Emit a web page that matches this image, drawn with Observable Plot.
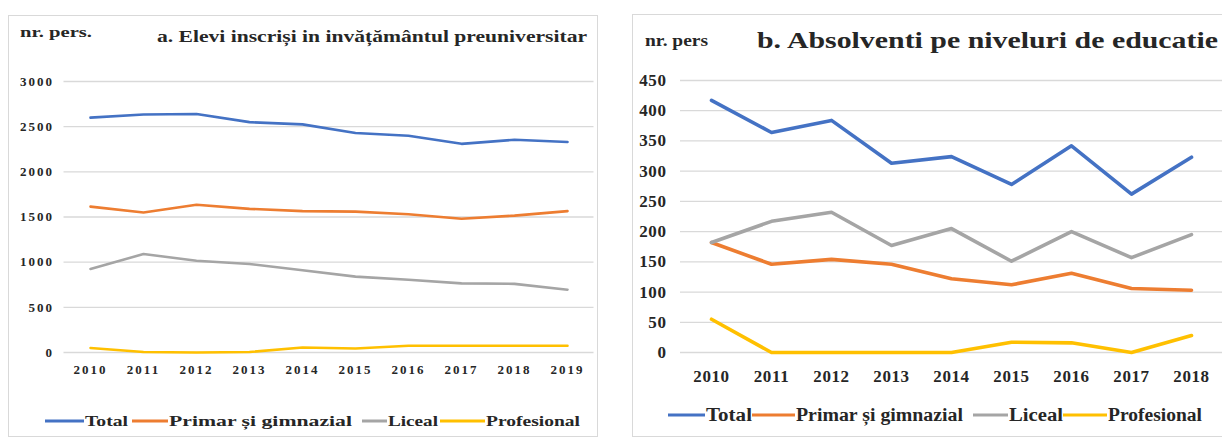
<!DOCTYPE html>
<html><head><meta charset="utf-8">
<script src="https://cdn.jsdelivr.net/npm/d3@7"></script>
<script src="https://cdn.jsdelivr.net/npm/@observablehq/plot@0.6"></script>
<style>
body{margin:0;background:#fff;}
#root{position:relative;width:1222px;height:438px;overflow:hidden;font-family:"Liberation Serif","Times New Roman",serif;font-weight:bold;color:#262626;}
.panel{position:absolute;border:1px solid #d9d9d9;box-sizing:border-box;}
.t{position:absolute;white-space:nowrap;line-height:1;transform-origin:0 50%;transform:translateY(-50%);}
.sw{position:absolute;height:3px;transform:translateY(-50%);}
#root svg{position:absolute;overflow:visible;}
</style></head><body><div id="root"></div>
<script>
// ---- data: panel a (Elevi înscriși în învățământul preuniversitar)
const yearsA   = ["2010","2011","2012","2013","2014","2015","2016","2017","2018","2019"];
const totalA   = [2600,2635,2640,2550,2525,2430,2400,2310,2355,2330];
const primarA  = [1615,1550,1635,1590,1565,1560,1530,1480,1515,1565];
const licealA  = [925,1090,1015,980,910,840,805,765,760,695];
const profA    = [50,5,0,5,55,45,75,75,75,75];
const yTicksA  = [0,500,1000,1500,2000,2500,3000];

// ---- data: panel b (Absolventi pe niveluri de educatie)
const yearsB   = ["2010","2011","2012","2013","2014","2015","2016","2017","2018"];
const totalB   = [417,364,384,313,324,278,342,262,323];
const primarB  = [182,146,154,146,122,112,131,106,103];
const licealB  = [182,217,232,177,205,151,200,157,195];
const profB    = [55,0,0,0,0,17,16,0,28];
const yTicksB  = [0,50,100,150,200,250,300,350,400,450];

const seriesNames  = ["Total","Primar și gimnazial","Liceal","Profesional"];
const seriesColors = ["#4472C4","#ED7D31","#A5A5A5","#FFC000"];

const titleA = "a. Elevi inscriși in invățământul preuniversitar";
const titleB = "b. Absolventi pe niveluri de educatie";
const unitA = "nr. pers.";
const unitB = "nr. pers";

const root = document.getElementById("root");
const FONT = '"Liberation Serif","Times New Roman",serif';

function table(years, cols){
  const rows = [];
  cols.forEach((vals, k) => years.forEach((yr, i) => rows.push({year: yr, value: vals[i], s: seriesNames[k]})));
  return rows;
}

function chart(o){
  const svg = Plot.plot({
    width: o.width, height: o.height,
    marginLeft: o.ml, marginRight: o.mr, marginTop: o.mt, marginBottom: o.mb,
    style: {fontFamily: FONT, fontWeight: "bold", fontSize: o.fs + "px", color: "#262626", background: "transparent"},
    x: {type: "point", domain: o.years, padding: 0.5},
    y: {domain: [0, o.ticks[o.ticks.length-1]]},
    color: {domain: seriesNames, range: seriesColors},
    marks: [
      Plot.gridY(o.ticks, {stroke: "#d9d9d9", strokeOpacity: 1, strokeWidth: 1.3}),
      Plot.axisY(o.ticks, {tickSize: 0, tickPadding: o.ypad, label: null, fontSize: o.fs, fill: "#262626", tickFormat: d => String(d)}),
      Plot.axisX(o.years, {tickSize: 0, tickPadding: o.xpad, label: null, fontSize: o.xfs, fill: "#262626"}),
      Plot.line(o.data, {x: "year", y: "value", z: "s", stroke: "s", strokeWidth: o.sw, strokeLinejoin: "round", strokeLinecap: "round"})
    ]
  });
  svg.querySelectorAll("text").forEach(t => t.style.letterSpacing = o.ls + "px");
  svg.style.left = o.left + "px";
  svg.style.top = o.top + "px";
  root.appendChild(svg);
}

function panel(l, t, w, h){
  const d = document.createElement("div");
  d.className = "panel";
  Object.assign(d.style, {left: l+"px", top: t+"px", width: w+"px", height: h+"px"});
  root.appendChild(d);
}

// text stretched horizontally to span width w (the source image is widened)
function text(str, x, yc, fs, w){
  const d = document.createElement("div");
  d.className = "t";
  d.textContent = str;
  Object.assign(d.style, {left: x+"px", top: yc+"px", fontSize: fs+"px"});
  root.appendChild(d);
  if (w) {
    const cur = d.getBoundingClientRect().width;
    d.style.transform = "translateY(-50%) scaleX(" + (w / cur) + ")";
  }
  return d;
}

function legend(items, yc, fs){
  items.forEach((it, k) => {
    const s = document.createElement("div");
    s.className = "sw";
    Object.assign(s.style, {left: it[0]+"px", top: yc+"px", width: (it[1]-it[0])+"px", background: seriesColors[k]});
    root.appendChild(s);
    text(seriesNames[k], it[1] + 1, yc, fs, it[2] - it[1] - 1);
  });
}

// Panel frames
panel(8, 15, 590, 422);
panel(632, 14, 600, 423);

// Panel a
text(unitA, 20, 32, 14.5, 72);
text(titleA, 157, 37, 16, 430);
chart({data: table(yearsA, [totalA, primarA, licealA, profA]), years: yearsA, ticks: yTicksA,
  width: 600, height: 320, ml: 63.5, mr: 6.5, mt: 21, mb: 28, left: 0, top: 60,
  fs: 13, xfs: 13, ls: 2, ypad: 10, xpad: 12, sw: 2.6});
legend([[45, 84, 128], [132, 168, 352], [362, 387, 438], [440, 485, 580]], 421, 15.5);

// Panel b
text(unitB, 645, 40, 17, 63);
text(titleB, 757, 40, 23, 461);
chart({data: table(yearsB, [totalB, primarB, licealB, profB]), years: yearsB, ticks: yTicksB,
  width: 602, height: 330, ml: 60, mr: 0, mt: 20, mb: 38, left: 620, top: 60,
  fs: 17, xfs: 17, ls: 0.6, ypad: 14, xpad: 17, sw: 3.6});
legend([[668, 705, 752], [752, 795, 963], [973, 1008, 1063], [1063, 1107, 1202]], 415, 18.5);
</script>
</body></html>
